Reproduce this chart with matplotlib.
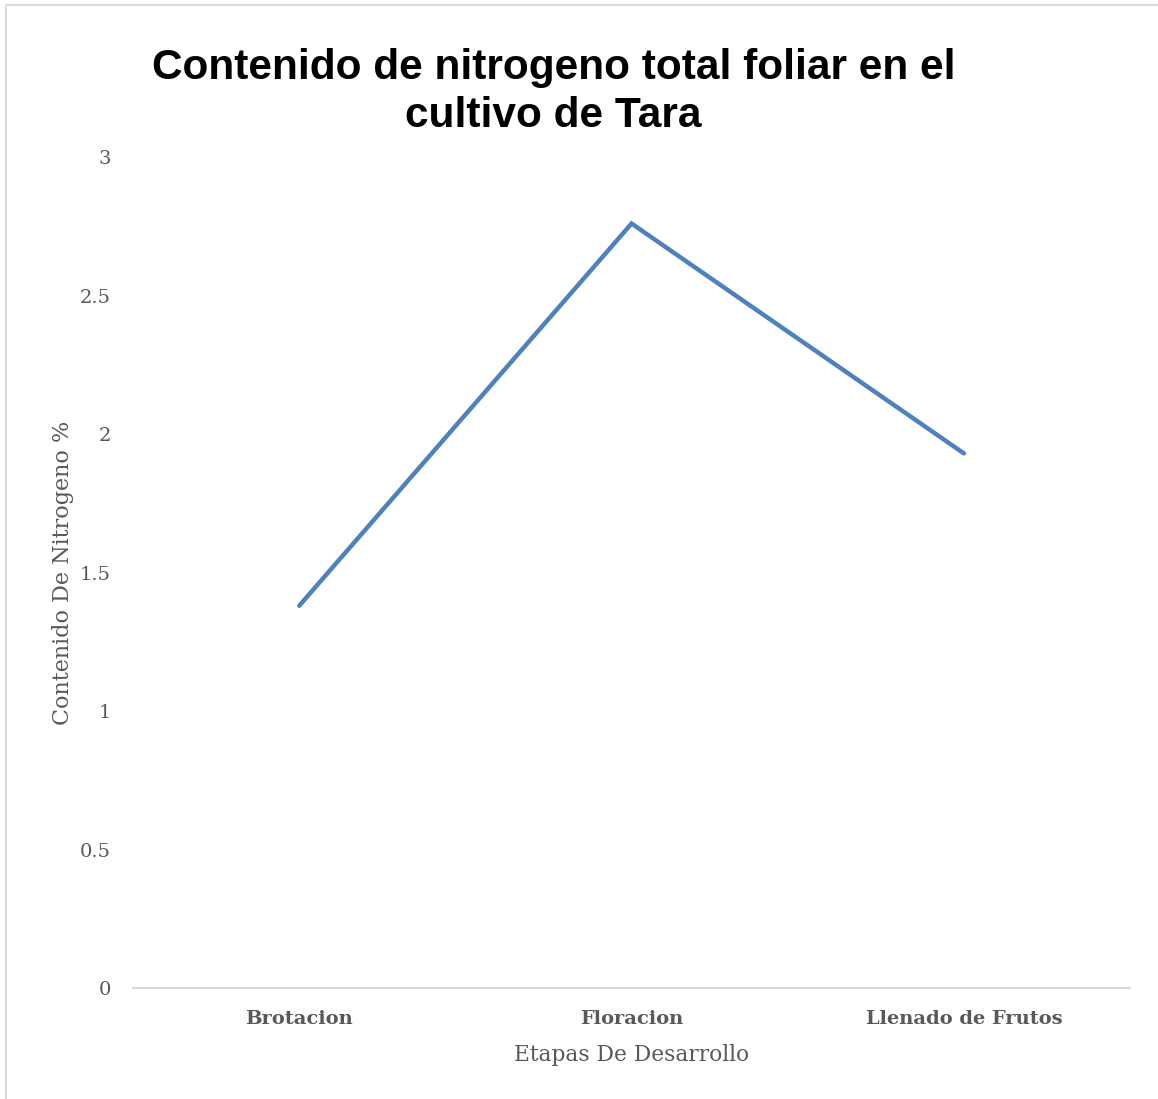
import matplotlib.pyplot as plt
from matplotlib.lines import Line2D

# Leaf nitrogen content (%) at each development stage
etapas = ["Brotacion", "Floracion", "Llenado de Frutos"]
nitrogeno = [1.38, 2.76, 1.93]
y_ticks = [0, 0.5, 1, 1.5, 2, 2.5, 3]
y_tick_labels = ["0", "0.5", "1", "1.5", "2", "2.5", "3"]

GRAY = "#595959"
SERIF = ["DejaVu Serif", "Liberation Serif"]

fig = plt.figure(figsize=(11.58, 10.99), dpi=100)
# chart frame: only the top and left edges fall inside the image
frame = dict(transform=fig.transFigure, color="#D9D9D9", lw=1.5)
fig.lines.append(Line2D([0.0055, 1.0], [0.9955, 0.9955], **frame))
fig.lines.append(Line2D([0.0055, 0.0055], [0.0, 0.9955], **frame))

ax = fig.add_axes([0.1149, 0.1010, 0.861, 0.7561])
x = [i + 0.5 for i in range(len(etapas))]
ax.plot(x, nitrogeno, color="#4F81BD", lw=3.2, solid_capstyle="round",
        solid_joinstyle="miter")

ax.set_xlim(0, len(etapas))
ax.set_ylim(0, 3)
ax.set_yticks(y_ticks)
ax.set_yticklabels(y_tick_labels, family=SERIF, fontsize=14, color=GRAY)
ax.set_xticks(x)
ax.set_xticklabels(etapas, family=SERIF, fontsize=14, color=GRAY, fontweight="bold")
ax.tick_params(axis="y", length=0, pad=16)
ax.tick_params(axis="x", length=0, pad=16)

for side in ("top", "right", "left"):
    ax.spines[side].set_visible(False)
ax.spines["bottom"].set_color("#D9D9D9")
ax.spines["bottom"].set_linewidth(1.5)

ax.set_xlabel("Etapas De Desarrollo", family=SERIF, fontsize=15.7, color=GRAY, labelpad=11)
ax.set_ylabel("Contenido De Nitrogeno %", family=SERIF, fontsize=16, color=GRAY, labelpad=4)

fig.text(0.478, 0.916, "Contenido de nitrogeno total foliar en el\ncultivo de Tara",
         ha="center", va="center", family=["Liberation Sans", "DejaVu Sans"],
         fontweight="bold", fontsize=30.5, linespacing=1.26)

fig.savefig("out.png", dpi=100)
